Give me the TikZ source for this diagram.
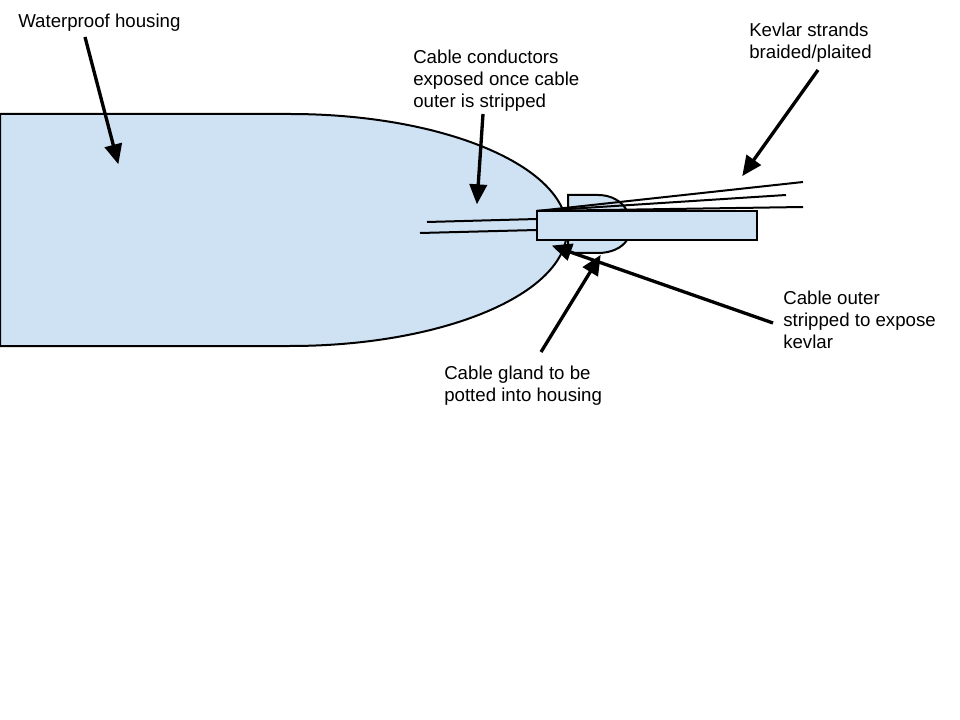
\documentclass[tikz,border=0pt]{standalone}
\usepackage{fontspec}
\setmainfont{Liberation Sans}
\usetikzlibrary{arrows.meta}
\definecolor{partblue}{HTML}{CFE2F3}
\tikzset{
    part/.style={draw=black,fill=partblue,line width=1.5pt},
    wire/.style={draw=black,line width=1.5pt},
    pointer/.style={draw=black,line width=2.5pt,-{Triangle[length=15pt,width=13pt]},shorten >=-1pt},
    caption/.style={align=left,inner sep=0pt,font=\fontsize{14pt}{16.5pt}\selectfont,anchor=north west}
}
\begin{document}
\begin{tikzpicture}[x=0.75pt,y=-0.75pt]
    \useasboundingbox (0,0) rectangle (960,720);
    % housing
    \draw[part] (0,114) -- (290,114)
        .. controls (443,114) and (567,166) .. (567,230)
        .. controls (567,294) and (443,346) .. (290,346) -- (0,346) -- cycle;
    % gland
    \draw[part] (568,211) -- (568,195) -- (598,195)
        .. controls (611,195) and (622,201) .. (627,211);
    \draw[part] (568,240) -- (568,253) -- (598,253)
        .. controls (611,253) and (622,248) .. (627,240);
    % cable
    \node[part,minimum width=165pt,minimum height=21.75pt,inner sep=0pt,anchor=north west] (cable) at (536,210) {};
    \coordinate (strandroot) at (537,211);
    \coordinate (condA) at (427,222);
    \coordinate (condB) at (420,233);
    \draw[wire] (condA) -- (537,219);
    \draw[wire] (condB) -- (537,230);
    \foreach \i/\xend/\yend in {1/803/182,2/786/195,3/803/207} {
    \coordinate (strand\i) at (\xend,\yend);
    \draw[wire] (strandroot) -- (strand\i);
    }
    % labels
    \node[caption] (housinglabel) at (18,14) {Waterproof housing};
    \node[caption] (conductorlabel) at (413,50) {Cable conductors\\exposed once cable\\outer is stripped};
    \node[caption] (kevlarlabel) at (749,23) {Kevlar strands\\braided/plaited};
    \node[caption] (outerlabel) at (783,291) {Cable outer\\stripped to expose\\kevlar};
    \node[caption] (glandlabel) at (444,366) {Cable gland to be\\potted into housing};
    % arrows
    \coordinate (housingfrom) at (85,37);
    \coordinate (housingto) at (118,163);
    \coordinate (conductorfrom) at (483,114);
    \coordinate (conductorto) at (477,203);
    \coordinate (kevlarfrom) at (818,70);
    \coordinate (kevlarto) at (743,175);
    \coordinate (outerfrom) at (773,323);
    \coordinate (outerto) at (553,246);
    \coordinate (glandfrom) at (541,352);
    \coordinate (glandto) at (600,256);
    \draw[pointer] (housingfrom) -- (housingto);
    \draw[pointer] (conductorfrom) -- (conductorto);
    \draw[pointer] (kevlarfrom) -- (kevlarto);
    \draw[pointer] (outerfrom) -- (outerto);
    \draw[pointer] (glandfrom) -- (glandto);
\end{tikzpicture}
\end{document}
